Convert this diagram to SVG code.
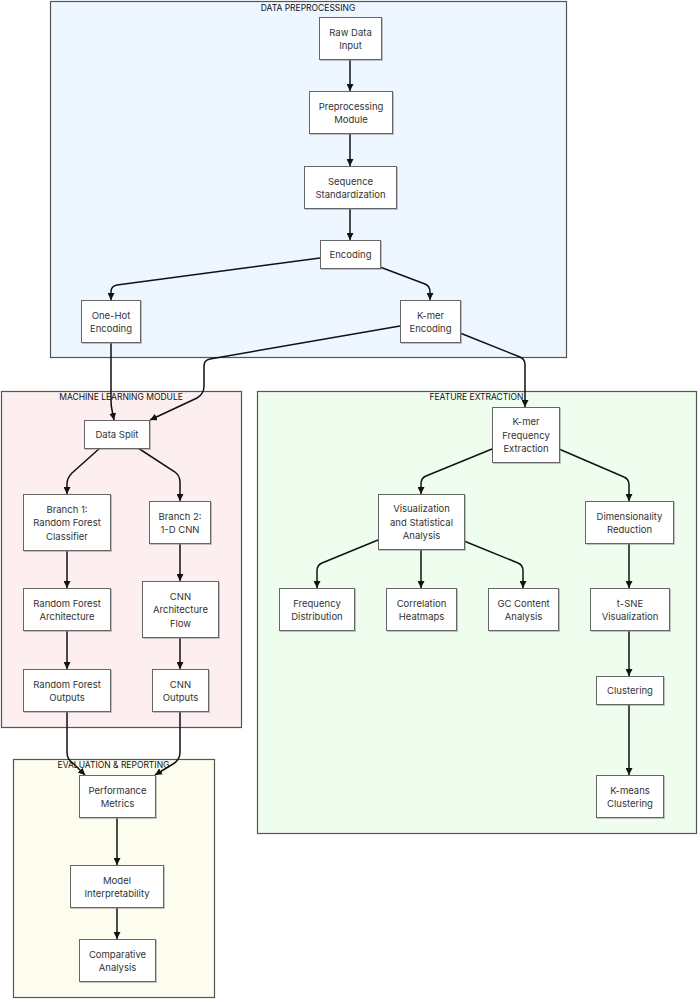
<svg xmlns="http://www.w3.org/2000/svg" width="700" height="1002" viewBox="0 0 700 1002">
<style>
.cl{stroke:#555;stroke-width:1.2}
.ct{font-family:Inter,"Liberation Sans",sans-serif;font-size:8.5px;fill:#111;text-anchor:middle}
.n rect{fill:#fff;stroke:#666;stroke-width:1;filter:url(#sh)}
.n text{font-family:Inter,"Liberation Sans",sans-serif;font-size:9.5px;fill:#333;text-anchor:middle;dominant-baseline:central}
.e path{fill:none;stroke:#111;stroke-width:1.5;marker-end:url(#ah)}
</style>
<defs>
<filter id="sh" x="-10%" y="-10%" width="130%" height="130%"><feDropShadow dx="1" dy="1" stdDeviation="0.6" flood-color="#888" flood-opacity="0.5"/></filter>
<marker id="ah" viewBox="0 0 10 10" refX="10" refY="5" markerWidth="7" markerHeight="7" markerUnits="userSpaceOnUse" orient="auto"><path d="M0,0 L10,5 L0,10 z" fill="#111"/></marker>
</defs>
<g id="cluster-preprocessing"><rect class="cl" x="50.5" y="1.5" width="516" height="356" fill="#EEF6FF"/><text class="ct" x="308" y="11">DATA PREPROCESSING</text></g>
<g id="cluster-ml"><rect class="cl" x="1.5" y="391.5" width="240" height="336" fill="#FDEFEF"/><text class="ct" x="121" y="400">MACHINE LEARNING MODULE</text></g>
<g id="cluster-feature"><rect class="cl" x="257.5" y="391.5" width="439" height="442" fill="#EFFDEF"/><text class="ct" x="476.5" y="400">FEATURE EXTRACTION</text></g>
<g id="cluster-eval"><rect class="cl" x="13.5" y="759.5" width="201" height="238" fill="#FDFDEF"/><text class="ct" x="113.5" y="768">EVALUATION &amp; REPORTING</text></g>
<g class="e" id="connectors">
<path d="M350,59 L350,91"/>
<path d="M350,133 L350,166"/>
<path d="M350,208 L350,240"/>
<path d="M320,258 L117,285 Q111,286 111,292 L111,300"/>
<path d="M380,267 L425,284 Q430,286 430,292 L430,300"/>
<path d="M111,342 L111,400 Q111,406 112,410 L114,420"/>
<path d="M400,326 L210,359 Q204,360 204,366 L204,386 Q204,394 197,398 L150,420"/>
<path d="M460,333 L520,357 Q525,359 525,365 L525,407"/>
<path d="M100,448 L72,473 Q67,478 67,484 L67,494"/>
<path d="M138,448 L175,472 Q180,476 180,482 L180,501"/>
<path d="M67,550 L67,588"/>
<path d="M180,543 L180,581"/>
<path d="M67,630 L67,669"/>
<path d="M180,637 L180,669"/>
<path d="M67,711 L67,752 Q67,760 74,764 L85,775"/>
<path d="M180,711 L180,752 Q180,760 173,764 L155,775"/>
<path d="M117,817 L117,865"/>
<path d="M117,907 L117,939"/>
<path d="M492,449 L426,476 Q421,478 421,484 L421,494"/>
<path d="M559,449 L624,477 Q629,479 629,485 L629,501"/>
<path d="M378,540 L322,563 Q317,565 317,571 L317,588"/>
<path d="M421,549 L421,588"/>
<path d="M464,541 L518,563 Q523,565 523,571 L523,588"/>
<path d="M629,543 L629,588"/>
<path d="M629,630 L629,676"/>
<path d="M629,704 L629,775"/>
</g>
<g class="n" id="raw"><rect x="319.5" y="17.5" width="62" height="42"/><text x="350.5" y="32">Raw Data</text><text x="350.5" y="45">Input</text></g>
<g class="n" id="prep"><rect x="309.5" y="91.5" width="83" height="42"/><text x="351" y="106">Preprocessing</text><text x="351" y="119">Module</text></g>
<g class="n" id="seq"><rect x="304.5" y="166.5" width="92" height="42"/><text x="350.5" y="181">Sequence</text><text x="350.5" y="194">Standardization</text></g>
<g class="n" id="enc"><rect x="320.5" y="240.5" width="60" height="28"/><text x="350.5" y="254.5">Encoding</text></g>
<g class="n" id="onehot"><rect x="81.5" y="300.5" width="59" height="42"/><text x="111" y="315">One-Hot</text><text x="111" y="328">Encoding</text></g>
<g class="n" id="kmer"><rect x="400.5" y="300.5" width="60" height="42"/><text x="430.5" y="315">K-mer</text><text x="430.5" y="328">Encoding</text></g>
<g class="n" id="split"><rect x="84.5" y="420.5" width="65" height="28"/><text x="117" y="434.5">Data Split</text></g>
<g class="n" id="b1"><rect x="23.5" y="494.5" width="87" height="56"/><text x="67" y="509">Branch 1:</text><text x="67" y="522.5">Random Forest</text><text x="67" y="536">Classifier</text></g>
<g class="n" id="b2"><rect x="149.5" y="501.5" width="61" height="42"/><text x="180" y="516">Branch 2:</text><text x="180" y="529">1-D CNN</text></g>
<g class="n" id="rfa"><rect x="23.5" y="588.5" width="87" height="42"/><text x="67" y="603">Random Forest</text><text x="67" y="616">Architecture</text></g>
<g class="n" id="cnna"><rect x="142.5" y="581.5" width="76" height="56"/><text x="180.5" y="596">CNN</text><text x="180.5" y="609.5">Architecture</text><text x="180.5" y="623">Flow</text></g>
<g class="n" id="rfo"><rect x="23.5" y="669.5" width="87" height="42"/><text x="67" y="684">Random Forest</text><text x="67" y="697">Outputs</text></g>
<g class="n" id="cnno"><rect x="152.5" y="669.5" width="56" height="42"/><text x="180.5" y="684">CNN</text><text x="180.5" y="697">Outputs</text></g>
<g class="n" id="pm"><rect x="79.5" y="775.5" width="76" height="42"/><text x="117.5" y="790">Performance</text><text x="117.5" y="803">Metrics</text></g>
<g class="n" id="mi"><rect x="70.5" y="865.5" width="93" height="42"/><text x="117" y="880">Model</text><text x="117" y="893">Interpretability</text></g>
<g class="n" id="ca"><rect x="79.5" y="939.5" width="76" height="42"/><text x="117.5" y="954">Comparative</text><text x="117.5" y="967">Analysis</text></g>
<g class="n" id="kfe"><rect x="492.5" y="407.5" width="67" height="55"/><text x="526" y="421.5">K-mer</text><text x="526" y="435">Frequency</text><text x="526" y="448.5">Extraction</text></g>
<g class="n" id="vis"><rect x="378.5" y="494.5" width="86" height="55"/><text x="421.5" y="508.5">Visualization</text><text x="421.5" y="522">and Statistical</text><text x="421.5" y="535.5">Analysis</text></g>
<g class="n" id="dim"><rect x="585.5" y="501.5" width="88" height="42"/><text x="629.5" y="516">Dimensionality</text><text x="629.5" y="529">Reduction</text></g>
<g class="n" id="fd"><rect x="279.5" y="588.5" width="75" height="42"/><text x="317" y="603">Frequency</text><text x="317" y="616">Distribution</text></g>
<g class="n" id="ch"><rect x="386.5" y="588.5" width="70" height="42"/><text x="421.5" y="603">Correlation</text><text x="421.5" y="616">Heatmaps</text></g>
<g class="n" id="gc"><rect x="488.5" y="588.5" width="70" height="42"/><text x="523.5" y="603">GC Content</text><text x="523.5" y="616">Analysis</text></g>
<g class="n" id="tsne"><rect x="590.5" y="588.5" width="79" height="42"/><text x="630" y="603">t-SNE</text><text x="630" y="616">Visualization</text></g>
<g class="n" id="clus"><rect x="596.5" y="676.5" width="67" height="28"/><text x="630" y="690.5">Clustering</text></g>
<g class="n" id="km"><rect x="596.5" y="775.5" width="67" height="42"/><text x="630" y="790">K-means</text><text x="630" y="803">Clustering</text></g>
</svg>
